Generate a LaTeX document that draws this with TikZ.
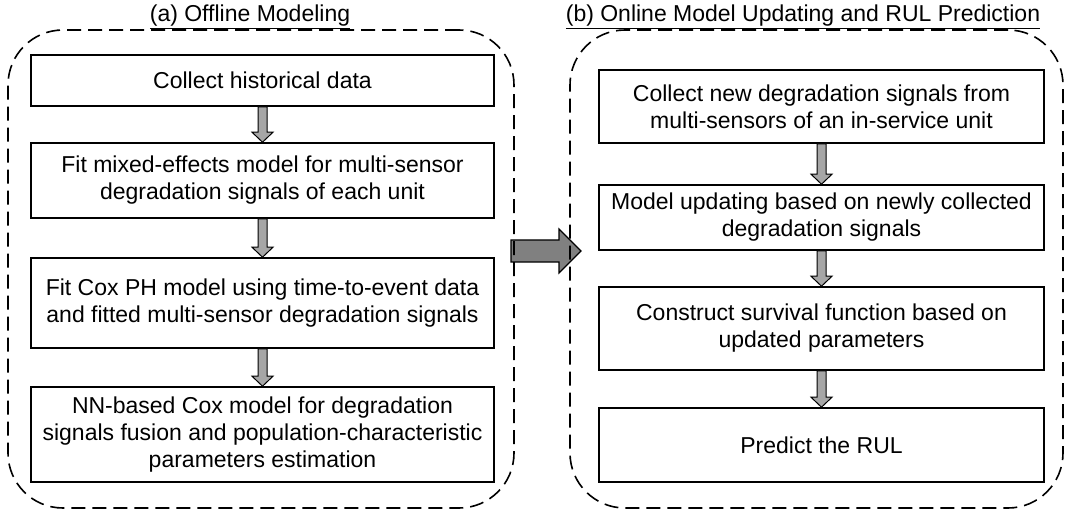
\documentclass[tikz,border=0pt]{standalone}
\usepackage{fontspec}
\setmainfont{Liberation Sans}
\usetikzlibrary{calc}

\tikzset{
	stepbox/.style={draw, line width=1.6pt, align=center, inner sep=0pt, font=\fontsize{23}{27}\selectfont},
	panel/.style={draw, line width=1.6pt, dash pattern=on 14pt off 7pt, rounded corners=55pt, inner sep=0pt},
	flow/.style={draw, line width=1pt, fill=black!35},
	stagearrow/.style={draw, line width=1.2pt, fill=black!50},
	heading/.style={font=\fontsize{23}{27}\selectfont}
}

% grey block arrow from one box down to the next
\newcommand{\flowarrow}[2]{%
	\draw[flow] ($(#1.south)+(-4.5,0)$) -- ($(#2.north)+(-4.5,10)$) -- ($(#2.north)+(-10.5,10)$) -- (#2.north)
		-- ($(#2.north)+(10.5,10)$) -- ($(#2.north)+(4.5,10)$) -- ($(#1.south)+(4.5,0)$) -- cycle;}

\begin{document}
\begin{tikzpicture}[x=1pt,y=1pt]
	\useasboundingbox (0,0) rectangle (1066,515);

	% titles
	\node[heading] (ta) at (250,498) {\underline{(a) Offline Modeling}};
	\node[heading] (tb) at (803,498) {\underline{(b) Online Model Updating and RUL Prediction}};

	% arrow between the two stages
	\coordinate (stage) at (511,264);
	\draw[stagearrow] (stage) ++(0,11) -- ++(48,0) -- ++(0,11) -- ++(22,-22) -- ++(-22,-22) -- ++(0,11) -- ++(-48,0) -- cycle;

	% dashed panels
	\node[panel, minimum width=506pt, minimum height=478pt] (offline) at (261,246) {};
	\node[panel, minimum width=493pt, minimum height=478pt] (online) at (816.5,246) {};

	% offline modeling
	\node[stepbox, minimum width=463pt, minimum height=51pt] (l1) at (262.5,434.5) {Collect historical data};
	\node[stepbox, minimum width=463pt, minimum height=75pt] (l2) at (262.5,334.5) {Fit mixed-effects model for multi-sensor\\degradation signals of each unit};
	\node[stepbox, minimum width=463pt, minimum height=90pt] (l3) at (262.5,212) {Fit Cox PH model using time-to-event data\\and fitted multi-sensor degradation signals};
	\node[stepbox, minimum width=463pt, minimum height=95pt] (l4) at (262.5,80.5) {NN-based Cox model for degradation\\signals fusion and population-characteristic\\parameters estimation};

	% online updating
	\node[stepbox, minimum width=445pt, minimum height=73pt] (r1) at (821.5,408.5) {Collect new degradation signals from\\multi-sensors of an in-service unit};
	\node[stepbox, minimum width=445pt, minimum height=65pt] (r2) at (821.5,297.5) {Model updating based on newly collected\\degradation signals};
	\node[stepbox, minimum width=445pt, minimum height=83pt] (r3) at (821.5,186.5) {Construct survival function based on\\updated parameters};
	\node[stepbox, minimum width=445pt, minimum height=74pt] (r4) at (821.5,70) {Predict the RUL};

	\flowarrow{l1}{l2}
	\flowarrow{l2}{l3}
	\flowarrow{l3}{l4}
	\flowarrow{r1}{r2}
	\flowarrow{r2}{r3}
	\flowarrow{r3}{r4}

\end{tikzpicture}
\end{document}
